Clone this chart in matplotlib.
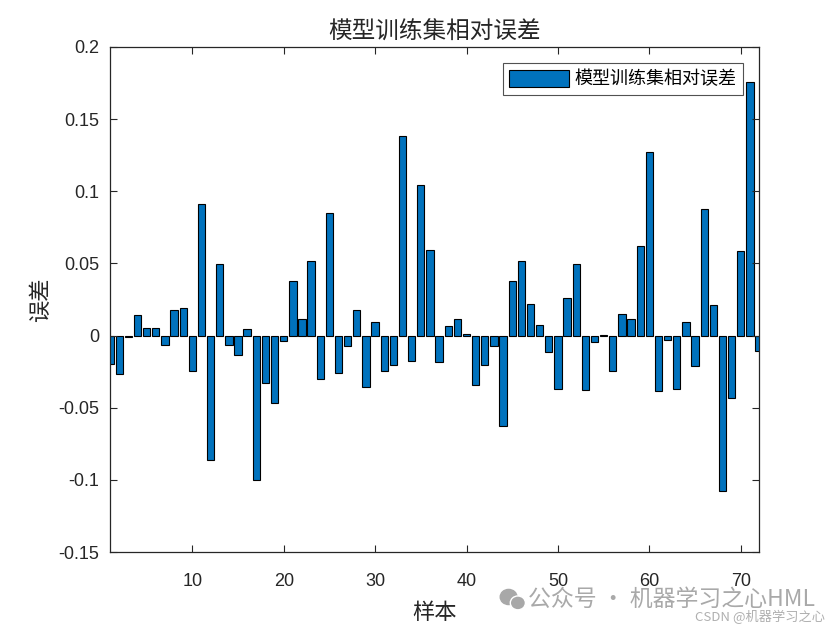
import matplotlib
matplotlib.use("Agg")
import matplotlib.pyplot as plt
from matplotlib.patches import Ellipse
import numpy as np

plt.rcParams['font.family'] = ['Noto Sans CJK SC', 'DejaVu Sans']

samples = list(range(1, 73))
rel_error = [
    -0.0196, -0.0266, -0.0010, 0.0143, 0.0053, 0.0053, -0.0067, 0.0176, 0.0192, -0.0247,
    0.0910, -0.0862, 0.0497, -0.0062, -0.0132, 0.0046, -0.0998, -0.0330, -0.0467, -0.0035,
    0.0381, 0.0116, 0.0520, -0.0303, 0.0848, -0.0259, -0.0069, 0.0176, -0.0356, 0.0095,
    -0.0247, -0.0206, 0.1386, -0.0178, 0.1044, 0.0594, -0.0185, 0.0067, 0.0116, 0.0012,
    -0.0342, -0.0206, -0.0074, -0.0624, 0.0381, 0.0520, 0.0217, 0.0074, -0.0111, -0.0367,
    0.0259, 0.0497, -0.0377, -0.0042, 0.0003, -0.0247, 0.0152, 0.0116, 0.0621, 0.1270,
    -0.0383, -0.0028, -0.0370, 0.0095, -0.0213, 0.0880, 0.0210, -0.1074, -0.0432, 0.0589,
    0.1756, -0.0104,
]
xticks = [10, 20, 30, 40, 50, 60, 70]
yticks = [-0.15, -0.1, -0.05, 0, 0.05, 0.1, 0.15, 0.2]
ytick_labels = ['-0.15', '-0.1', '-0.05', '0', '0.05', '0.1', '0.15', '0.2']

title = '模型训练集相对误差'
legend_label = '模型训练集相对误差'
xlabel = '样本'
ylabel = '误差'

fig = plt.figure(figsize=(8.4, 6.3), dpi=100)
ax = fig.add_axes([0.1310, 0.1238, 0.7726, 0.8016])

ax.bar(samples, rel_error, width=0.8, color='#0072BD', edgecolor='black',
       linewidth=0.8, label=legend_label)

ax.set_xlim(1, 72)
ax.set_ylim(-0.15, 0.2)
ax.set_xticks(xticks)
ax.set_yticks(yticks)
ax.set_yticklabels(ytick_labels)
for lbl in ax.get_xticklabels() + ax.get_yticklabels():
    lbl.set_family(['Liberation Sans', 'DejaVu Sans'])
    lbl.set_fontsize(13)
    lbl.set_color('#262626')
ax.tick_params(direction='in', length=5, width=0.8, colors='#262626',
               top=True, right=True)
ax.tick_params(axis='y', pad=8)
ax.tick_params(axis='x', pad=15)
for s in ax.spines.values():
    s.set_linewidth(0.9)
    s.set_color('#262626')

ax.set_title(title, fontsize=17, color='#262626', pad=6)
ax.set_xlabel(xlabel, fontsize=16, color='#262626', labelpad=8)
ax.set_ylabel(ylabel, fontsize=16, color='#262626', labelpad=4)

leg = ax.legend(loc='upper right', fontsize=13, frameon=True, fancybox=False,
                handlelength=3.3, handleheight=1.1, borderpad=0.35,
                borderaxespad=0.9, handletextpad=0.3)
leg.get_frame().set_edgecolor('#262626')
leg.get_frame().set_linewidth(0.8)

# watermark
fig.patches.append(Ellipse((0.6055, 0.0524), 0.020, 0.024, transform=fig.transFigure,
                           color='#a8a8a8', zorder=5))
fig.patches.append(Ellipse((0.6165, 0.0430), 0.018, 0.022, transform=fig.transFigure,
                           color='#a8a8a8', zorder=5, ec='white', lw=1))
fig.text(0.628, 0.048, '公众号 · 机器学习之心HML', fontsize=16.5, color='#9a9a9a',
         alpha=0.85, va='center', ha='left')
fig.text(0.982, 0.021, 'CSDN @机器学习之心', fontsize=9.5, color='#b0b0b0',
         va='center', ha='right')

fig.savefig('out.png', dpi=100)
